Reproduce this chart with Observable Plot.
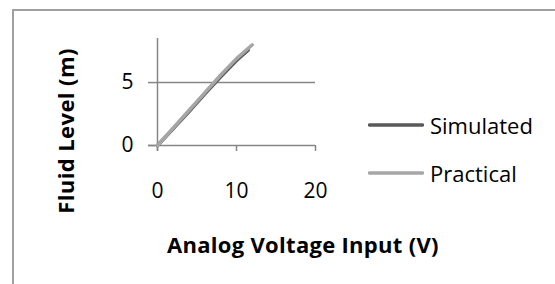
<!DOCTYPE html>
<html>
<head>
<meta charset="utf-8">
<script src="https://cdn.jsdelivr.net/npm/d3@7"></script>
<script src="https://cdn.jsdelivr.net/npm/@observablehq/plot@0.6"></script>
<style>
  html, body { margin: 0; padding: 0; background: #fff; }
  #wrap { position: relative; width: 555px; height: 284px; overflow: hidden; font-family: "Open Sans", "Noto Sans", sans-serif; }
  #border { position: absolute; left: 12px; top: 9px; width: 600px; height: 320px; border: 2px solid #a0a0a0; box-sizing: border-box; }
  #chart { position: absolute; left: 0; top: 0; }
  .ttl { position: absolute; font-weight: bold; color: #000; white-space: nowrap; }
  #xlab { left: 167px; top: 229px; font-size: 22px; letter-spacing: 0.3px; }
  #ylab { left: 65px; top: 131px; font-size: 22px; letter-spacing: 0.4px; transform: translate(-50%, -50%) rotate(-90deg); }
  #legend { position: absolute; left: 368px; top: 113px; font-size: 22px; color: #000; }
  .item { display: flex; align-items: center; height: 24px; margin-bottom: 24px; }
  .item svg { margin-right: 6px; }
</style>
</head>
<body>
<div id="wrap">
  <div id="border"></div>
  <div id="chart"></div>
  <div class="ttl" id="xlab">Analog Voltage Input (V)</div>
  <div class="ttl" id="ylab">Fluid Level (m)</div>
  <div id="legend"></div>
</div>
<script>
const seriesNames = ["Simulated", "Practical"];
const seriesColors = ["#595959", "#a6a6a6"];
const simX = [0, 2, 4, 6, 8, 10, 11.5];
const simY = [0, 1.35, 2.7, 4.1, 5.45, 6.75, 7.6];
const pracX = [0, 2, 4, 6, 8, 10, 12];
const pracY = [0, 1.4, 2.8, 4.2, 5.6, 6.9, 8];
const xTicks = [0, 10, 20];
const yTicks = [0, 5];

const sim = simX.map((x, i) => ({x, y: simY[i]}));
const prac = pracX.map((x, i) => ({x, y: pracY[i]}));
const axisColor = "#868686";

const plot = Plot.plot({
  width: 555,
  height: 284,
  marginLeft: 157,
  marginRight: 240,
  marginTop: 38,
  marginBottom: 139,
  x: {domain: [0, 20]},
  y: {domain: [0, 8.5]},
  style: {fontFamily: "'Open Sans', 'Noto Sans', sans-serif", fontSize: "21px", color: "#000", background: "transparent", overflow: "visible"},
  marks: [
    Plot.ruleY([5], {stroke: axisColor, strokeWidth: 1.5}),
    Plot.axisY({ticks: yTicks, tickSize: 9, tickPadding: 15, stroke: axisColor, strokeWidth: 1.5, strokeOpacity: 1, label: null, fill: "#000"}),
    Plot.axisX({ticks: xTicks, tickSize: 6, tickPadding: 32, stroke: axisColor, strokeWidth: 1.5, strokeOpacity: 1, label: null, fill: "#000"}),
    Plot.ruleY([0], {stroke: axisColor, strokeWidth: 1.5, insetLeft: -9}),
    Plot.ruleX([0], {stroke: axisColor, strokeWidth: 1.5, insetBottom: -6}),
    Plot.line(sim, {x: "x", y: "y", stroke: seriesColors[0], strokeWidth: 3.5, strokeLinecap: "round"}),
    Plot.line(prac, {x: "x", y: "y", stroke: seriesColors[1], strokeWidth: 3.5, strokeLinecap: "round"})
  ]
});
document.getElementById("chart").appendChild(plot);

const legend = document.getElementById("legend");
seriesNames.forEach((name, i) => {
  const item = document.createElement("div");
  item.className = "item";
  item.innerHTML = `<svg width="56" height="6"><line x1="1.5" y1="3" x2="54.5" y2="3" stroke="${seriesColors[i]}" stroke-width="3.5" stroke-linecap="round"/></svg><span>${name}</span>`;
  legend.appendChild(item);
});
</script>
</body>
</html>
